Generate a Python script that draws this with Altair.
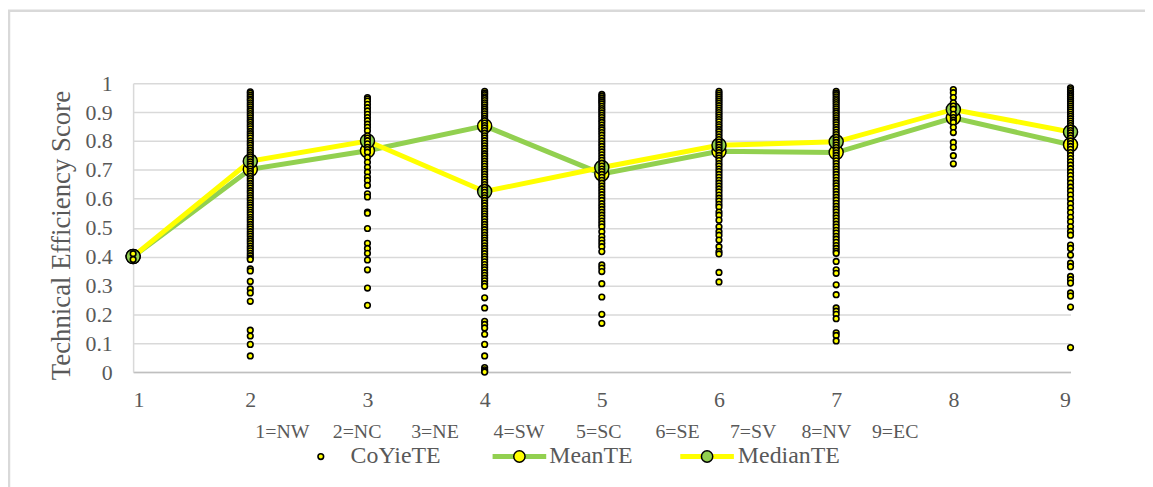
import altair as alt
import pandas as pd

regions = [1, 2, 3, 4, 5, 6, 7, 8, 9]
mean_te = [0.40, 0.702, 0.766, 0.852, 0.686, 0.764, 0.760, 0.880, 0.787]
median_te = [0.40, 0.730, 0.800, 0.625, 0.708, 0.785, 0.797, 0.909, 0.831]

g1 = [0.41, 0.39]
g2 = [0.97, 0.965, 0.958, 0.952, 0.945, 0.94, 0.932, 0.925, 0.918, 0.91, 0.903, 0.895, 0.888,
      0.88, 0.872, 0.865, 0.857, 0.85, 0.842, 0.833, 0.825, 0.818, 0.81, 0.80, 0.792, 0.785,
      0.776, 0.768, 0.76, 0.752, 0.745, 0.737, 0.728, 0.72, 0.712, 0.703, 0.695, 0.687, 0.678,
      0.67, 0.662, 0.653, 0.645, 0.637, 0.628, 0.62, 0.611, 0.603, 0.595, 0.586, 0.578, 0.57,
      0.561, 0.553, 0.545, 0.536, 0.528, 0.52, 0.511, 0.503, 0.495, 0.486, 0.478, 0.47, 0.461,
      0.453, 0.445, 0.436, 0.428, 0.42, 0.411, 0.403, 0.395, 0.39,
      0.357, 0.35, 0.314, 0.288, 0.274, 0.245, 0.145, 0.125, 0.096, 0.056]
g3 = [0.95, 0.945, 0.938, 0.927, 0.915, 0.904, 0.892, 0.881, 0.870, 0.858, 0.847, 0.835, 0.818,
      0.81, 0.801, 0.79, 0.778, 0.77, 0.761, 0.743, 0.726, 0.709, 0.692, 0.675, 0.663, 0.646,
      0.617, 0.606, 0.554, 0.55, 0.497, 0.446, 0.428, 0.411, 0.388, 0.354, 0.291, 0.231]
g4 = [0.972, 0.966, 0.96, 0.953, 0.947, 0.94, 0.932, 0.925, 0.917, 0.91, 0.902, 0.894, 0.886,
      0.878, 0.87, 0.862, 0.853, 0.845, 0.836, 0.827, 0.818, 0.81, 0.801, 0.792, 0.783, 0.774,
      0.765, 0.756, 0.748, 0.739, 0.73, 0.721, 0.712, 0.703, 0.694, 0.685, 0.676, 0.667, 0.658,
      0.649, 0.64, 0.631, 0.622, 0.612, 0.603, 0.594, 0.585, 0.576, 0.566, 0.557, 0.548, 0.539,
      0.53, 0.52, 0.511, 0.502, 0.493, 0.484, 0.474, 0.465, 0.456, 0.447, 0.437, 0.428, 0.419,
      0.41, 0.4, 0.391, 0.382, 0.372, 0.363, 0.354, 0.344, 0.335, 0.325, 0.316, 0.306, 0.297,
      0.257, 0.222, 0.176, 0.165, 0.153, 0.131, 0.096, 0.056, 0.016, 0.008, 0.003, 0.0]
g5 = [0.961, 0.955, 0.948, 0.941, 0.935, 0.928, 0.92, 0.912, 0.905, 0.897, 0.889, 0.881, 0.872,
      0.864, 0.855, 0.846, 0.838, 0.829, 0.82, 0.81, 0.8, 0.79, 0.781, 0.771, 0.762, 0.752,
      0.742, 0.733, 0.723, 0.713, 0.703, 0.694, 0.684, 0.674, 0.664, 0.654, 0.644, 0.634, 0.624,
      0.614, 0.604, 0.594, 0.583, 0.573, 0.563, 0.553, 0.543, 0.533, 0.523, 0.513, 0.503, 0.486,
      0.469, 0.457, 0.446, 0.434, 0.417, 0.371, 0.36, 0.348, 0.306, 0.26, 0.2, 0.169]
g6 = [0.972, 0.965, 0.958, 0.951, 0.944, 0.937, 0.93, 0.922, 0.914, 0.906, 0.898, 0.89, 0.882,
      0.874, 0.866, 0.857, 0.849, 0.84, 0.832, 0.823, 0.814, 0.805, 0.796, 0.787, 0.778, 0.769,
      0.76, 0.75, 0.741, 0.732, 0.722, 0.713, 0.703, 0.694, 0.684, 0.674, 0.664, 0.654, 0.644,
      0.634, 0.624, 0.613, 0.602, 0.592, 0.581, 0.571, 0.554, 0.543, 0.526, 0.503, 0.486, 0.474,
      0.457, 0.434, 0.417, 0.409, 0.345, 0.312]
g7 = [0.972, 0.966, 0.96, 0.953, 0.946, 0.94, 0.933, 0.926, 0.918, 0.911, 0.903, 0.896, 0.888,
      0.88, 0.872, 0.864, 0.856, 0.847, 0.839, 0.83, 0.822, 0.813, 0.804, 0.795, 0.786, 0.777,
      0.768, 0.759, 0.75, 0.741, 0.731, 0.722, 0.712, 0.703, 0.693, 0.684, 0.674, 0.664, 0.654,
      0.645, 0.635, 0.625, 0.615, 0.605, 0.595, 0.584, 0.574, 0.564, 0.554, 0.543, 0.533, 0.523,
      0.512, 0.502, 0.491, 0.481, 0.47, 0.46, 0.449, 0.438, 0.428, 0.418, 0.411, 0.383, 0.354,
      0.342, 0.302, 0.268, 0.222, 0.211, 0.2, 0.185, 0.136, 0.127, 0.108]
g8 = [0.978, 0.967, 0.950, 0.932, 0.921, 0.910, 0.892, 0.881, 0.872, 0.864, 0.847, 0.829,
      0.795, 0.778, 0.749, 0.721]
g9 = [0.984, 0.978, 0.972, 0.966, 0.96, 0.954, 0.948, 0.941, 0.935, 0.928, 0.921, 0.914, 0.907,
      0.9, 0.892, 0.885, 0.877, 0.869, 0.861, 0.853, 0.845, 0.836, 0.828, 0.819, 0.81, 0.8,
      0.791, 0.781, 0.771, 0.76, 0.75, 0.739, 0.728, 0.716, 0.704, 0.692, 0.68, 0.667, 0.654,
      0.64, 0.627, 0.613, 0.598, 0.583, 0.568, 0.552, 0.536, 0.52, 0.503, 0.487, 0.474, 0.44,
      0.428, 0.405, 0.377, 0.365, 0.331, 0.32, 0.308, 0.274, 0.263, 0.225, 0.085]

region_labels = ["1=NW", "2=NC", "3=NE", "4=SW", "5=SC", "6=SE", "7=SV", "8=NV", "9=EC"]
series_names = ["CoYieTE", "MeanTE", "MedianTE"]
y_ticks = [0, 0.1, 0.2, 0.3, 0.4, 0.5, 0.6, 0.7, 0.8, 0.9, 1]

groups = [g1, g2, g3, g4, g5, g6, g7, g8, g9]
rows = []
for r, vals in zip(regions, groups):
    for v in vals:
        rows.append({"region": r, "te": v})
scatter_df = pd.DataFrame(rows)
line_df = pd.DataFrame({"region": regions, "mean": mean_te, "median": median_te})

FONT = "Liberation Serif"
TXT = "#595959"
GREEN = "#92D050"
YELLOW = "#FFFF00"
W, H = 944, 291

xax = alt.Axis(values=regions, format="d", title=None, ticks=False, grid=False,
               labelFontSize=22, labelColor=TXT, labelFont=FONT, labelPadding=18,
               labelOverlap=False, domainColor="#BFBFBF", domainWidth=1.5)
xsc = alt.Scale(domain=[1, 9], nice=False, zero=False)
ysc = alt.Scale(domain=[0, 1], nice=False)
yax = alt.Axis(values=y_ticks, format=".1~f", labelOverlap=False, tickCount=11,
               title="Technical Efficiency Score", titleFont=FONT, titleFontSize=27,
               titleFontWeight="normal", titleColor=TXT, titleAngle=270, titleX=-72, titleY=153,
               titleAlign="center", titleBaseline="middle",
               ticks=False, labelFontSize=22, labelColor=TXT, labelFont=FONT, labelPadding=21,
               gridColor="#D9D9D9", gridWidth=1.5, domainColor="#D9D9D9", domainWidth=1.5)


def X():
    return alt.X("region:Q", scale=xsc, axis=xax)


def Y(field):
    return alt.Y(field, type="quantitative", scale=ysc, axis=yax)


base = alt.Chart(line_df)
mean_line = base.mark_line(color=GREEN, strokeWidth=5).encode(x=X(), y=Y("mean"))
median_line = base.mark_line(color=YELLOW, strokeWidth=5).encode(x=X(), y=Y("median"))
mean_pts = base.mark_point(shape="circle", filled=True, fill=YELLOW, stroke="black",
                           strokeWidth=1.5, size=200, opacity=1).encode(x=X(), y=Y("mean"))
median_pts = base.mark_point(shape="circle", filled=True, fill=GREEN, stroke="black",
                             strokeWidth=1.5, size=200, opacity=1).encode(x=X(), y=Y("median"))
dots = alt.Chart(scatter_df).mark_point(shape="circle", filled=True, fill=YELLOW,
                                        stroke="black", strokeWidth=1.6, size=32,
                                        opacity=1).encode(x=X(), y=Y("te"))

one = alt.Data(values=[{"k": 1}])
layers = [mean_line, median_line, mean_pts, median_pts, dots]

# outer chart border (left and top)
layers.append(alt.Chart(one).mark_rule(color="#D9D9D9", strokeWidth=2.5).encode(
    x=alt.value(-125), y=alt.value(-73), y2=alt.value(420)))
layers.append(alt.Chart(one).mark_rule(color="#D9D9D9", strokeWidth=2.5).encode(
    x=alt.value(-126), x2=alt.value(1030), y=alt.value(-73)))

# region code row
label_x = [123, 201, 280, 363, 446, 526, 601, 673, 744]
for lx, lab in zip(label_x, region_labels):
    layers.append(alt.Chart(one).mark_text(font=FONT, fontSize=20, color=TXT, align="left",
                                           baseline="middle").encode(
        x=alt.value(lx), y=alt.value(351), text=alt.value(lab)))

# legend row
LY = 376
layers.append(alt.Chart(one).mark_point(shape="circle", filled=True, fill=YELLOW, stroke="black",
                                        strokeWidth=1.6, size=32, opacity=1).encode(
    x=alt.value(189), y=alt.value(LY)))
layers.append(alt.Chart(one).mark_rule(color=GREEN, strokeWidth=5).encode(
    x=alt.value(362), x2=alt.value(416), y=alt.value(LY)))
layers.append(alt.Chart(one).mark_point(shape="circle", filled=True, fill=YELLOW, stroke="black",
                                        strokeWidth=1.5, size=130, opacity=1).encode(
    x=alt.value(389), y=alt.value(LY)))
layers.append(alt.Chart(one).mark_rule(color=YELLOW, strokeWidth=5).encode(
    x=alt.value(551), x2=alt.value(605), y=alt.value(LY)))
layers.append(alt.Chart(one).mark_point(shape="circle", filled=True, fill=GREEN, stroke="black",
                                        strokeWidth=1.5, size=130, opacity=1).encode(
    x=alt.value(578), y=alt.value(LY)))
for lx, lab in zip([219, 419, 609], series_names):
    layers.append(alt.Chart(one).mark_text(font=FONT, fontSize=24, color=TXT, align="left",
                                           baseline="middle").encode(
        x=alt.value(lx), y=alt.value(LY), text=alt.value(lab)))

chart = alt.layer(*layers).properties(
    width=W, height=H,
    autosize=alt.AutoSizeParams(type="none"),
    padding={"left": 126, "top": 74, "right": 75, "bottom": 114},
    background="white",
).configure_view(stroke=None).configure_axis(
    labelFont=FONT, titleFont=FONT, labelColor=TXT, titleColor=TXT
)

chart.save("out.html", embed_options={"renderer": "svg", "actions": False})
